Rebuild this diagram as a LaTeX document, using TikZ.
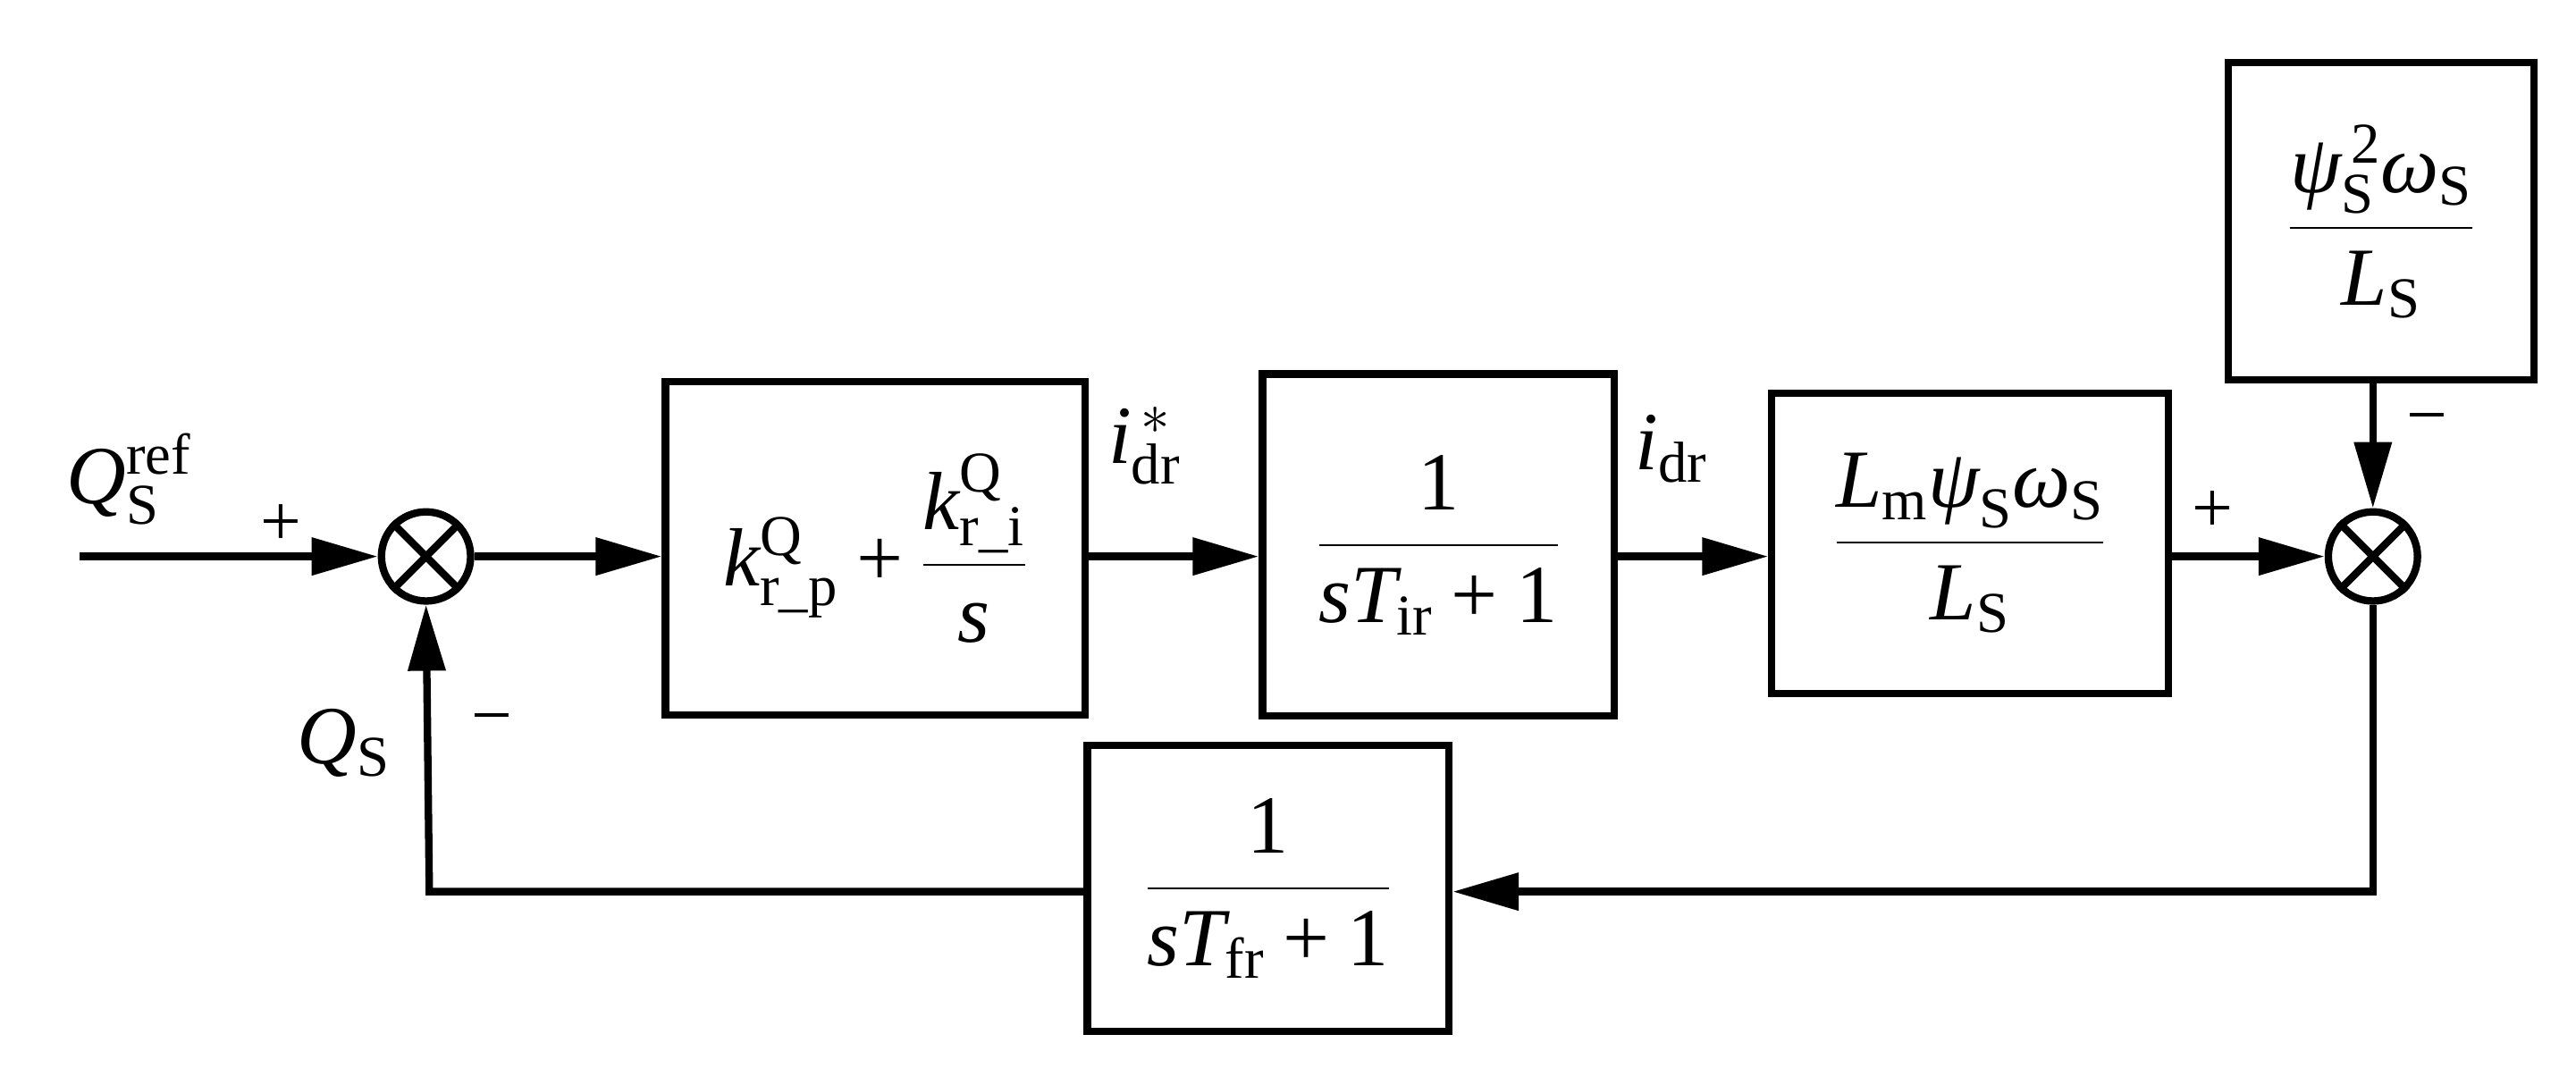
\RequirePackage{fix-cm}
\documentclass[tikz,border=0pt]{standalone}
\usepackage{amsmath}
\usepackage{fontspec}
\setmainfont{Liberation Serif}
\usetikzlibrary{arrows.meta}
\newcommand{\gpsi}{\mbox{\itshape ψ}}
\newcommand{\gom}{\mbox{\itshape ω}}
\newcommand{\pl}{\mathbin{\text{+}}}
\begin{document}
\begin{tikzpicture}[x=1pt,y=-1pt,
  ln/.style={line width=4.5pt},
  arr/.style={ln,-{Triangle[length=40pt,width=22pt]}},
  blk/.style={draw,line width=4.5pt,inner sep=0pt},
  sum/.style={draw,line width=4.5pt,circle,minimum size=54pt,inner sep=0pt},
  txt/.style={font=\fontsize{50}{58}\selectfont,inner sep=0pt},
  sg/.style={font=\fontsize{44}{50}\selectfont,inner sep=0pt}]
\useasboundingbox (0,0) rectangle (1560,657);
\node[sum] (s1) at (258,337) {};
\draw[ln] (s1.north west)--(s1.south east) (s1.north east)--(s1.south west);
\node[sum] (s2) at (1437,337) {};
\draw[ln] (s2.north west)--(s2.south east) (s2.north east)--(s2.south west);
\node[blk,minimum width=254pt,minimum height=202pt] (b1) at (530,332) {};
\node[txt] at (b1) {$\mathit{k}^{\mathrm{Q}}_{\mathrm{r\_p}}\pl\dfrac{\mathit{k}^{\mathrm{Q}}_{\mathrm{r\_i}}}{\mathit{s}}$};
\node[blk,minimum width=213pt,minimum height=207pt] (b2) at (871,330) {};
\node[txt] at (b2) {$\dfrac{\text{1}}{\mathit{sT}_{\mathrm{ir}}\pl\text{1}}$};
\node[blk,minimum width=240pt,minimum height=182pt] (b3) at (1193,329) {};
\node[txt] at (b3) {$\dfrac{\mathit{L}_{\mathrm{m}}\gpsi_{\mathrm{S}}\gom_{\mathrm{S}}}{\mathit{L}_{\mathrm{S}}}$};
\node[blk,minimum width=185pt,minimum height=192pt] (b4) at (1442,134) {};
\node[txt] at (b4) {$\dfrac{\gpsi_{\mathrm{S}}^{\,\mathrm{2}}\gom_{\mathrm{S}}}{\mathit{L}_{\mathrm{S}}}$};
\node[blk,minimum width=219pt,minimum height=173pt] (b5) at (768,538) {};
\node[txt] at (b5) {$\dfrac{\text{1}}{\mathit{sT}_{\mathrm{fr}}\pl\text{1}}$};
\coordinate (in) at (48,337);
\draw[arr] (in) -- (s1.west);
\draw[arr] (s1.east) -- (s1.east -| b1.west);
\draw[arr] (s1.east -| b1.east) -- (s1.east -| b2.west);
\draw[arr] (s1.east -| b2.east) -- (s1.east -| b3.west);
\draw[arr] (s1.east -| b3.east) -- (s2.west);
\draw[arr] (s2.north |- b4.south) -- (s2.north);
\coordinate (c1) at (1437,540);
\coordinate (c2) at (260,540);
\draw[arr] (s2.south) -- (c1) -- (c1 -| b5.east);
\draw[arr] (c2 -| b5.west) -- (c2) -- (s1.south);
\node[txt] at (78,290) {$\mathit{Q}^{\mathrm{ref}}_{\mathrm{S}}$};
\node[txt] at (208,450) {$\mathit{Q}_{\mathrm{S}}$};
\node[txt] at (693,270) {$\mathit{i}^{\,*}_{\mathrm{dr}}$};
\node[txt] at (1012,272) {$\mathit{i}_{\mathrm{dr}}$};
\node[sg] at (170,318) {+};
\node[sg] at (1340,310) {+};
\node[sg] at (298,440) {−};
\node[sg] at (1470,258) {−};
\end{tikzpicture}
\end{document}
